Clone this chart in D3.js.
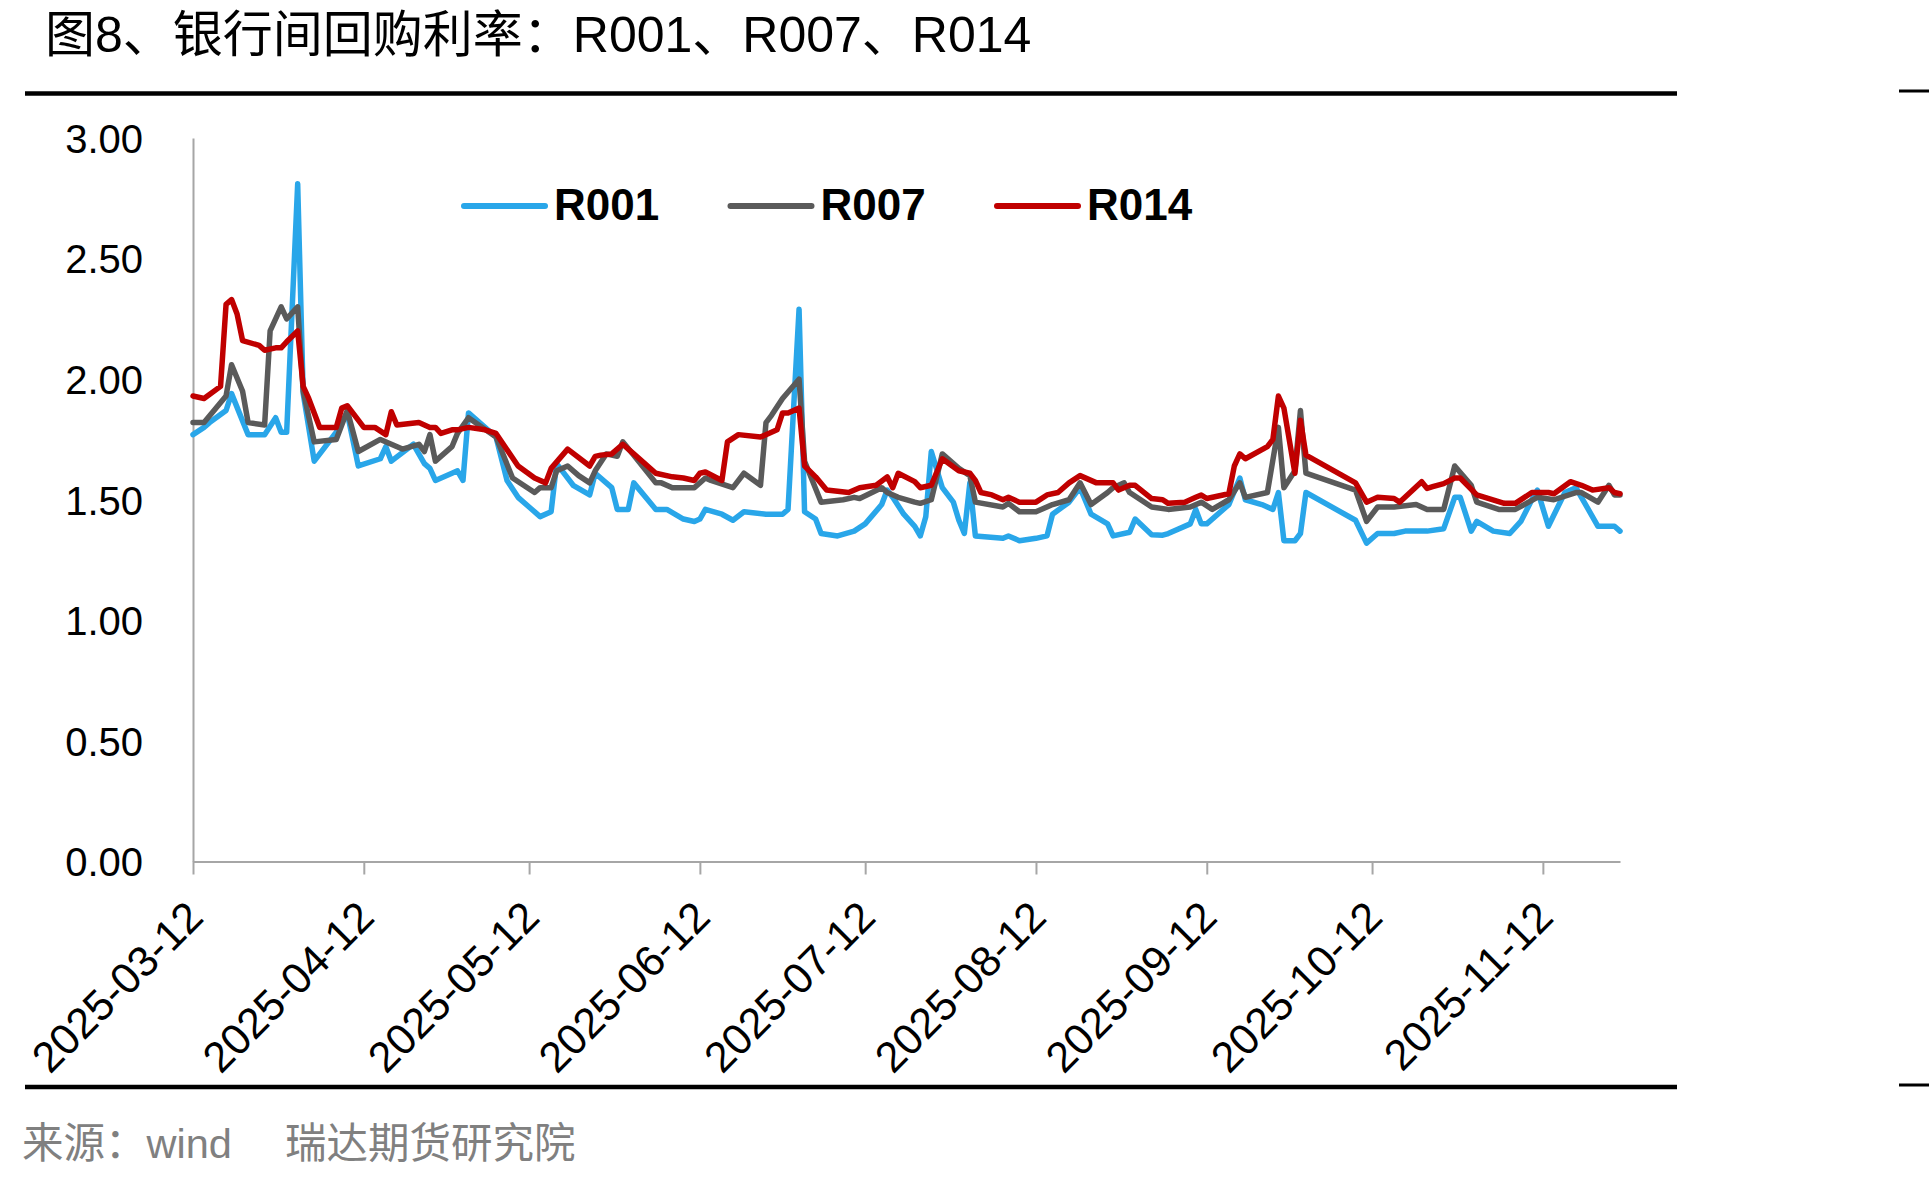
<!DOCTYPE html>
<html>
<head>
<meta charset="utf-8">
<script src="https://cdn.jsdelivr.net/npm/d3@7"></script>
<style>
  html, body { margin: 0; padding: 0; background: #ffffff; }
  svg { display: block; }
</style>
</head>
<body>
<svg id="chart" width="1929" height="1178"></svg>
<script>
// ---------------- DATA ----------------
const titleText = "图8、银行间回购利率：R001、R007、R014";
const sourceText = "来源：wind\u3000 瑞达期货研究院";
const seriesNames = ["R001", "R007", "R014"];
const seriesColors = ["#29A6E9", "#5A5A5A", "#C00000"];
const xStart = "2025-03-12";
const xEnd = "2025-11-26";
const xTickLabels = ["2025-03-12","2025-04-12","2025-05-12","2025-06-12","2025-07-12",
                     "2025-08-12","2025-09-12","2025-10-12","2025-11-12"];
const yTickValues = [0, 0.5, 1.0, 1.5, 2.0, 2.5, 3.0];

const r001 = [
 ["2025-03-12",1.77],["2025-03-14",1.80],["2025-03-15",1.82],["2025-03-18",1.87],["2025-03-19",1.94],
 ["2025-03-22",1.77],["2025-03-25",1.77],["2025-03-27",1.84],["2025-03-28",1.78],["2025-03-29",1.78],
 ["2025-03-31",2.81],["2025-04-01",1.94],["2025-04-03",1.66],["2025-04-07",1.78],["2025-04-09",1.86],
 ["2025-04-11",1.64],["2025-04-15",1.67],["2025-04-16",1.72],["2025-04-17",1.66],["2025-04-21",1.73],
 ["2025-04-23",1.65],["2025-04-24",1.63],["2025-04-25",1.58],["2025-04-28",1.61],["2025-04-29",1.62],
 ["2025-04-30",1.58],["2025-05-01",1.86],["2025-05-04",1.80],["2025-05-06",1.76],["2025-05-08",1.58],
 ["2025-05-10",1.51],["2025-05-12",1.47],["2025-05-14",1.43],["2025-05-16",1.45],["2025-05-17",1.65],
 ["2025-05-18",1.62],["2025-05-20",1.56],["2025-05-23",1.52],["2025-05-24",1.61],["2025-05-27",1.55],
 ["2025-05-28",1.46],["2025-05-30",1.46],["2025-05-31",1.57],["2025-06-04",1.46],["2025-06-06",1.46],
 ["2025-06-09",1.42],["2025-06-11",1.41],["2025-06-12",1.42],["2025-06-13",1.46],["2025-06-16",1.44],
 ["2025-06-18",1.415],["2025-06-20",1.45],["2025-06-24",1.44],["2025-06-27",1.44],["2025-06-28",1.46],
 ["2025-06-30",2.29],["2025-07-01",1.45],["2025-07-03",1.42],["2025-07-04",1.36],["2025-07-07",1.35],
 ["2025-07-10",1.37],["2025-07-12",1.40],["2025-07-15",1.48],["2025-07-16",1.54],["2025-07-17",1.51],
 ["2025-07-19",1.44],["2025-07-21",1.39],["2025-07-22",1.35],["2025-07-23",1.43],["2025-07-24",1.70],
 ["2025-07-26",1.55],["2025-07-28",1.49],["2025-07-29",1.415],["2025-07-30",1.36],["2025-07-31",1.57],
 ["2025-08-01",1.35],["2025-08-06",1.34],["2025-08-07",1.35],["2025-08-09",1.33],["2025-08-12",1.34],
 ["2025-08-14",1.35],["2025-08-15",1.44],["2025-08-18",1.49],["2025-08-20",1.55],["2025-08-22",1.44],
 ["2025-08-25",1.40],["2025-08-26",1.35],["2025-08-29",1.365],["2025-08-30",1.42],["2025-09-02",1.355],
 ["2025-09-04",1.353],["2025-09-05",1.36],["2025-09-09",1.40],["2025-09-10",1.46],["2025-09-11",1.40],
 ["2025-09-12",1.40],["2025-09-16",1.48],["2025-09-18",1.59],["2025-09-19",1.50],["2025-09-22",1.48],
 ["2025-09-24",1.46],["2025-09-25",1.53],["2025-09-26",1.33],["2025-09-28",1.33],["2025-09-29",1.36],
 ["2025-09-30",1.53],["2025-10-09",1.415],["2025-10-11",1.32],["2025-10-13",1.36],["2025-10-16",1.36],
 ["2025-10-18",1.37],["2025-10-21",1.37],["2025-10-22",1.37],["2025-10-25",1.38],["2025-10-27",1.51],
 ["2025-10-28",1.51],["2025-10-30",1.37],["2025-10-31",1.41],["2025-11-03",1.37],["2025-11-06",1.36],
 ["2025-11-08",1.41],["2025-11-10",1.50],["2025-11-11",1.54],["2025-11-13",1.39],["2025-11-16",1.53],
 ["2025-11-18",1.55],["2025-11-19",1.51],["2025-11-22",1.39],["2025-11-25",1.39],["2025-11-26",1.37]
];

const r007 = [
 ["2025-03-12",1.82],["2025-03-14",1.82],["2025-03-18",1.93],["2025-03-19",2.06],["2025-03-21",1.95],
 ["2025-03-22",1.82],["2025-03-25",1.81],["2025-03-26",2.20],["2025-03-28",2.30],["2025-03-29",2.25],
 ["2025-03-31",2.30],["2025-04-01",1.95],["2025-04-03",1.74],["2025-04-07",1.75],["2025-04-09",1.87],
 ["2025-04-11",1.70],["2025-04-15",1.75],["2025-04-17",1.73],["2025-04-19",1.71],["2025-04-22",1.73],
 ["2025-04-23",1.70],["2025-04-24",1.77],["2025-04-25",1.66],["2025-04-28",1.72],["2025-04-29",1.775],
 ["2025-05-01",1.84],["2025-05-06",1.76],["2025-05-09",1.59],["2025-05-13",1.53],["2025-05-14",1.55],
 ["2025-05-16",1.55],["2025-05-17",1.62],["2025-05-19",1.64],["2025-05-21",1.60],["2025-05-23",1.57],
 ["2025-05-24",1.62],["2025-05-26",1.69],["2025-05-28",1.68],["2025-05-29",1.74],["2025-05-31",1.685],
 ["2025-06-04",1.57],["2025-06-05",1.57],["2025-06-07",1.55],["2025-06-11",1.55],["2025-06-13",1.59],
 ["2025-06-14",1.58],["2025-06-18",1.55],["2025-06-20",1.61],["2025-06-23",1.56],["2025-06-24",1.82],
 ["2025-06-25",1.85],["2025-06-27",1.92],["2025-06-30",2.00],["2025-07-01",1.66],["2025-07-04",1.49],
 ["2025-07-08",1.50],["2025-07-10",1.51],["2025-07-11",1.505],["2025-07-15",1.55],["2025-07-16",1.53],
 ["2025-07-18",1.51],["2025-07-21",1.49],["2025-07-22",1.485],["2025-07-24",1.50],["2025-07-26",1.69],
 ["2025-07-29",1.63],["2025-07-31",1.60],["2025-08-01",1.49],["2025-08-06",1.47],["2025-08-07",1.485],
 ["2025-08-09",1.45],["2025-08-12",1.45],["2025-08-15",1.48],["2025-08-18",1.50],["2025-08-20",1.57],
 ["2025-08-22",1.48],["2025-08-25",1.53],["2025-08-26",1.55],["2025-08-28",1.57],["2025-08-29",1.53],
 ["2025-09-02",1.47],["2025-09-05",1.46],["2025-09-09",1.47],["2025-09-11",1.49],["2025-09-13",1.46],
 ["2025-09-16",1.50],["2025-09-18",1.57],["2025-09-19",1.51],["2025-09-23",1.53],["2025-09-25",1.80],
 ["2025-09-26",1.55],["2025-09-28",1.62],["2025-09-29",1.87],["2025-09-30",1.61],["2025-10-09",1.54],
 ["2025-10-11",1.41],["2025-10-13",1.47],["2025-10-16",1.47],["2025-10-20",1.48],["2025-10-22",1.46],
 ["2025-10-25",1.46],["2025-10-27",1.64],["2025-10-30",1.56],["2025-10-31",1.49],["2025-11-04",1.46],
 ["2025-11-07",1.46],["2025-11-11",1.51],["2025-11-14",1.50],["2025-11-18",1.53],["2025-11-19",1.53],
 ["2025-11-22",1.49],["2025-11-24",1.56],["2025-11-25",1.52],["2025-11-26",1.52]
];

const r014 = [
 ["2025-03-12",1.93],["2025-03-14",1.92],["2025-03-17",1.97],["2025-03-18",2.31],["2025-03-19",2.33],
 ["2025-03-20",2.27],["2025-03-21",2.16],["2025-03-24",2.14],["2025-03-25",2.12],["2025-03-27",2.13],
 ["2025-03-28",2.13],["2025-03-29",2.155],["2025-03-31",2.20],["2025-04-01",1.97],["2025-04-02",1.92],
 ["2025-04-04",1.80],["2025-04-07",1.80],["2025-04-08",1.88],["2025-04-09",1.89],["2025-04-12",1.80],
 ["2025-04-14",1.80],["2025-04-16",1.77],["2025-04-17",1.865],["2025-04-18",1.81],["2025-04-22",1.82],
 ["2025-04-24",1.80],["2025-04-25",1.80],["2025-04-26",1.775],["2025-04-28",1.79],["2025-04-29",1.79],
 ["2025-05-01",1.80],["2025-05-04",1.79],["2025-05-06",1.775],["2025-05-10",1.64],["2025-05-13",1.59],
 ["2025-05-15",1.57],["2025-05-16",1.63],["2025-05-19",1.71],["2025-05-23",1.64],["2025-05-24",1.68],
 ["2025-05-25",1.685],["2025-05-27",1.69],["2025-05-29",1.73],["2025-05-31",1.69],["2025-06-04",1.61],
 ["2025-06-07",1.595],["2025-06-09",1.59],["2025-06-11",1.58],["2025-06-12",1.61],["2025-06-13",1.615],
 ["2025-06-16",1.58],["2025-06-17",1.74],["2025-06-19",1.77],["2025-06-23",1.76],["2025-06-26",1.79],
 ["2025-06-27",1.86],["2025-06-28",1.86],["2025-06-30",1.88],["2025-07-01",1.64],["2025-07-03",1.595],
 ["2025-07-05",1.54],["2025-07-09",1.53],["2025-07-11",1.55],["2025-07-14",1.56],["2025-07-16",1.595],
 ["2025-07-17",1.55],["2025-07-18",1.61],["2025-07-21",1.575],["2025-07-22",1.55],["2025-07-24",1.56],
 ["2025-07-26",1.67],["2025-07-29",1.62],["2025-07-31",1.61],["2025-08-01",1.58],["2025-08-02",1.53],
 ["2025-08-04",1.52],["2025-08-06",1.50],["2025-08-07",1.51],["2025-08-09",1.49],["2025-08-12",1.49],
 ["2025-08-14",1.52],["2025-08-16",1.53],["2025-08-18",1.57],["2025-08-20",1.60],["2025-08-23",1.57],
 ["2025-08-26",1.57],["2025-08-27",1.54],["2025-08-29",1.56],["2025-08-30",1.56],["2025-09-02",1.505],
 ["2025-09-04",1.50],["2025-09-05",1.485],["2025-09-08",1.49],["2025-09-10",1.51],["2025-09-11",1.52],
 ["2025-09-12",1.505],["2025-09-16",1.525],["2025-09-17",1.64],["2025-09-18",1.69],["2025-09-19",1.67],
 ["2025-09-23",1.72],["2025-09-24",1.75],["2025-09-25",1.93],["2025-09-26",1.88],["2025-09-28",1.61],
 ["2025-09-29",1.83],["2025-09-30",1.685],["2025-10-09",1.57],["2025-10-11",1.49],["2025-10-13",1.51],
 ["2025-10-16",1.505],["2025-10-17",1.49],["2025-10-21",1.575],["2025-10-22",1.547],["2025-10-23",1.554],
 ["2025-10-25",1.567],["2025-10-27",1.59],["2025-10-28",1.59],["2025-10-31",1.52],["2025-11-05",1.485],
 ["2025-11-07",1.485],["2025-11-10",1.53],["2025-11-13",1.53],["2025-11-14",1.525],["2025-11-17",1.575],
 ["2025-11-19",1.56],["2025-11-21",1.54],["2025-11-24",1.55],["2025-11-25",1.53],["2025-11-26",1.525]
];

const seriesData = [r001, r007, r014];

// ---------------- DRAW ----------------
const svg = d3.select("#chart");
const parse = d3.timeParse("%Y-%m-%d");
const latin = "'Liberation Sans', Arial, 'Noto Sans CJK SC', sans-serif";

svg.append("rect").attr("width", 1929).attr("height", 1178).attr("fill", "#ffffff");

const x = d3.scaleTime().domain([parse(xStart), parse(xEnd)]).range([193, 1620]);
const y = d3.scaleLinear().domain([0, 3]).range([861.5, 138]);

// Title
svg.append("text").attr("x", 45).attr("y", 52).attr("font-size", 50)
  .attr("fill", "#000").attr("font-family", latin).text(titleText);

// Rules
svg.append("line").attr("x1", 25).attr("x2", 1677).attr("y1", 93.5).attr("y2", 93.5)
  .attr("stroke", "#000").attr("stroke-width", 4.5);
svg.append("line").attr("x1", 25).attr("x2", 1677).attr("y1", 1087).attr("y2", 1087)
  .attr("stroke", "#000").attr("stroke-width", 4.5);
svg.append("line").attr("x1", 1899).attr("x2", 1929).attr("y1", 91).attr("y2", 91)
  .attr("stroke", "#000").attr("stroke-width", 3);
svg.append("line").attr("x1", 1899).attr("x2", 1929).attr("y1", 1085).attr("y2", 1085)
  .attr("stroke", "#000").attr("stroke-width", 3);

// Axes
const axisColor = "#a6a6a6";
const xAxis = d3.axisBottom(x)
  .tickValues(xTickLabels.map(parse))
  .tickFormat(d3.timeFormat("%Y-%m-%d"))
  .tickSize(13).tickSizeOuter(0);
const gx = svg.append("g").attr("transform", `translate(0,${y(0)})`).call(xAxis);
gx.select(".domain").attr("stroke", axisColor).attr("stroke-width", 2);
gx.selectAll(".tick line").attr("stroke", axisColor).attr("stroke-width", 2);
gx.selectAll(".tick text")
  .attr("x", 0).attr("y", 0).attr("dy", 0)
  .attr("transform", "translate(12,58) rotate(-45)")
  .attr("text-anchor", "end")
  .attr("fill", "#000")
  .attr("font-size", 43)
  .attr("font-family", latin);

const yAxis = d3.axisLeft(y).tickValues(yTickValues).tickFormat(d3.format(".2f"))
  .tickSize(0).tickSizeOuter(0).tickPadding(50);
const gy = svg.append("g").attr("transform", `translate(${x.range()[0]},0)`).call(yAxis);
gy.select(".domain").attr("stroke", axisColor).attr("stroke-width", 2);
gy.selectAll(".tick text").attr("fill", "#000").attr("font-size", 40)
  .attr("font-family", latin).attr("dy", "0.36em");

// Lines
const line = d3.line().x(d => x(parse(d[0]))).y(d => y(d[1]));
seriesData.forEach((s, i) => {
  svg.append("path").datum(s).attr("d", line)
    .attr("fill", "none").attr("stroke", seriesColors[i])
    .attr("stroke-width", 5.5).attr("stroke-linejoin", "round").attr("stroke-linecap", "round");
});

// Legend
seriesNames.forEach((name, i) => {
  const x0 = 464 + i * 266.5;
  svg.append("line").attr("x1", x0).attr("x2", x0 + 81).attr("y1", 206).attr("y2", 206)
    .attr("stroke", seriesColors[i]).attr("stroke-width", 6).attr("stroke-linecap", "round");
  svg.append("text").attr("x", x0 + 90).attr("y", 220).attr("font-size", 44)
    .attr("font-weight", "bold").attr("font-family", latin).attr("fill", "#000").text(name);
});

// Source
svg.append("text").attr("x", 22).attr("y", 1158).attr("font-size", 41.5)
  .attr("fill", "#808080").attr("font-family", latin)
  .style("white-space", "pre").text(sourceText);
</script>
</body>
</html>
